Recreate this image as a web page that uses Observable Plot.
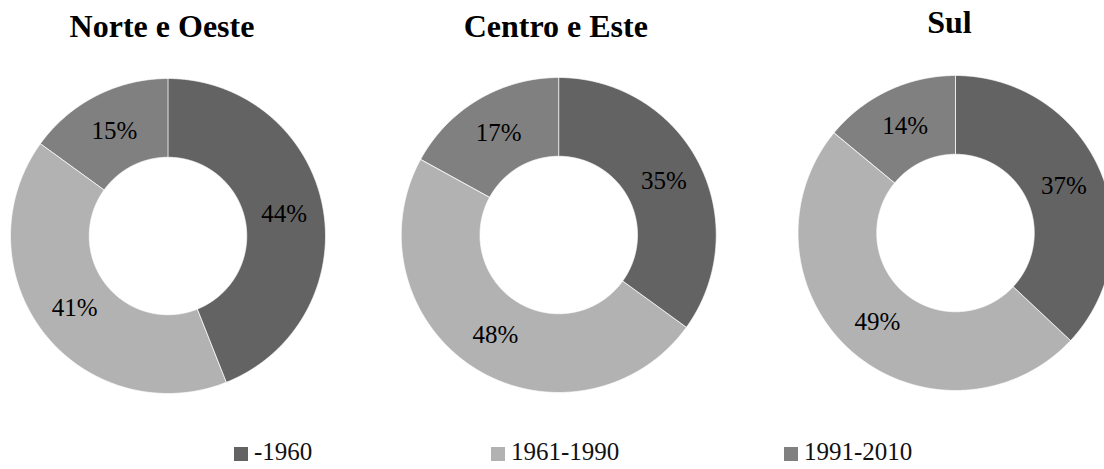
<!DOCTYPE html>
<html>
<head>
<meta charset="utf-8">
<script src="https://cdn.jsdelivr.net/npm/d3@7"></script>
<script src="https://cdn.jsdelivr.net/npm/@observablehq/plot@0.6"></script>
<style>
  html, body { margin: 0; padding: 0; background: #fff; }
  #wrap { position: relative; width: 1104px; height: 469px; overflow: hidden; font-family: "Liberation Serif", "Times New Roman", serif; }
  #chart svg text { font-family: "Liberation Serif", "Times New Roman", serif; }
  #legend { position: absolute; left: 0; top: 0; width: 1104px; height: 469px; pointer-events: none; }
  .sw { position: absolute; width: 14px; height: 14px; top: 447px; }
  .lt { position: absolute; top: 439px; font-size: 25px; line-height: 26px; color: #111; white-space: nowrap; font-family: "Liberation Serif", "Times New Roman", serif; }
</style>
</head>
<body>
<div id="wrap"><div id="chart"></div><div id="legend"></div></div>
<script>
// ---- data ----
const regions = ["Norte e Oeste", "Centro e Este", "Sul"];
const periods = ["-1960", "1961-1990", "1991-2010"];
const norteOeste = [44, 41, 15];
const centroEste = [35, 48, 17];
const sul = [37, 49, 14];
const colors = ["#636363", "#b2b2b2", "#808080"];

const seriesByRegion = [norteOeste, centroEste, sul];

// ---- layout ----
const W = 1104, H = 432;
const R = 157.5;          // outer radius in px
const inner = 0.5;        // inner radius as fraction of outer
const cx0 = 167.5;        // centre of first donut
const step = 393.75;      // distance between donut centres
const bw = 370;           // facet band width
const pad = 1 - bw / step;
const fxStart = cx0 - bw / 2;
const fxEnd = fxStart + step * (3 - pad);
const mt = 50, mb = 12;
const innerH = H - mt - mb;
// small per-panel nudges (px) of the donut centres
const nudge = {"Norte e Oeste": [0, 0.5], "Centro e Este": [-3, -0.5], "Sul": [0, -2.5]};

// ---- geometry from data ----
const polys = [];
const labels = [];
regions.forEach((reg, ri) => {
  const vals = seriesByRegion[ri];
  const total = d3.sum(vals);
  const ox = nudge[reg][0] / R, oy = -nudge[reg][1] / R;
  let acc = 0;
  vals.forEach((v, pi) => {
    const a0 = acc / total * 2 * Math.PI;
    acc += v;
    const a1 = acc / total * 2 * Math.PI;
    const n = Math.max(2, Math.ceil((a1 - a0) / 0.005));
    const key = reg + "|" + periods[pi];
    for (let k = 0; k <= n; k++) {
      const t = a0 + (a1 - a0) * k / n;
      polys.push({region: reg, period: periods[pi], key, x: ox + Math.sin(t), y: oy + Math.cos(t)});
    }
    for (let k = n; k >= 0; k--) {
      const t = a0 + (a1 - a0) * k / n;
      polys.push({region: reg, period: periods[pi], key, x: ox + inner * Math.sin(t), y: oy + inner * Math.cos(t)});
    }
    const am = (a0 + a1) / 2, rm = (1 + inner) / 2;
    labels.push({region: reg, x: ox + rm * Math.sin(am), y: oy + rm * Math.cos(am), text: Math.round(v / total * 100) + "%"});
  });
});

const serif = '"Liberation Serif", "Times New Roman", serif';
const titleTop = regions.filter(r => r !== "Sul");
const titleSul = regions.filter(r => r === "Sul");

const chart = Plot.plot({
  width: W,
  height: H,
  marginTop: mt,
  marginBottom: mb,
  marginLeft: 0,
  marginRight: 0,
  style: {fontFamily: serif, background: "transparent", overflow: "visible"},
  fx: {domain: regions, range: [fxStart, fxEnd], paddingInner: pad, paddingOuter: 0, round: false, axis: null, label: null},
  x: {domain: [-bw / 2 / R, bw / 2 / R], axis: null},
  y: {domain: [-innerH / 2 / R, innerH / 2 / R], axis: null},
  color: {domain: periods, range: colors},
  marks: [
    Plot.line(polys, {x: "x", y: "y", z: "key", fx: "region", fill: "period", stroke: "white", strokeWidth: 0.75, curve: "linear-closed"}),
    Plot.text(labels, {x: "x", y: "y", fx: "region", text: "text", fontSize: 25, fontFamily: serif, fill: "#000"}),
    Plot.text(titleTop, {fx: d => d, text: d => d, frameAnchor: "top", lineAnchor: "top", dx: -6, dy: -36, fontSize: 32, fontWeight: "bold", fontFamily: serif, fill: "#000"}),
    Plot.text(titleSul, {fx: d => d, text: d => d, frameAnchor: "top", lineAnchor: "top", dx: -6, dy: -40, fontSize: 32, fontWeight: "bold", fontFamily: serif, fill: "#000"})
  ]
});
document.getElementById("chart").appendChild(chart);

// ---- legend ----
const legendX = [234, 491, 784];
const lg = document.getElementById("legend");
periods.forEach((p, i) => {
  const sw = document.createElement("div");
  sw.className = "sw";
  sw.style.left = legendX[i] + "px";
  sw.style.background = colors[i];
  lg.appendChild(sw);
  const t = document.createElement("div");
  t.className = "lt";
  t.style.left = (legendX[i] + 20) + "px";
  t.textContent = p;
  lg.appendChild(t);
});
</script>
</body>
</html>
